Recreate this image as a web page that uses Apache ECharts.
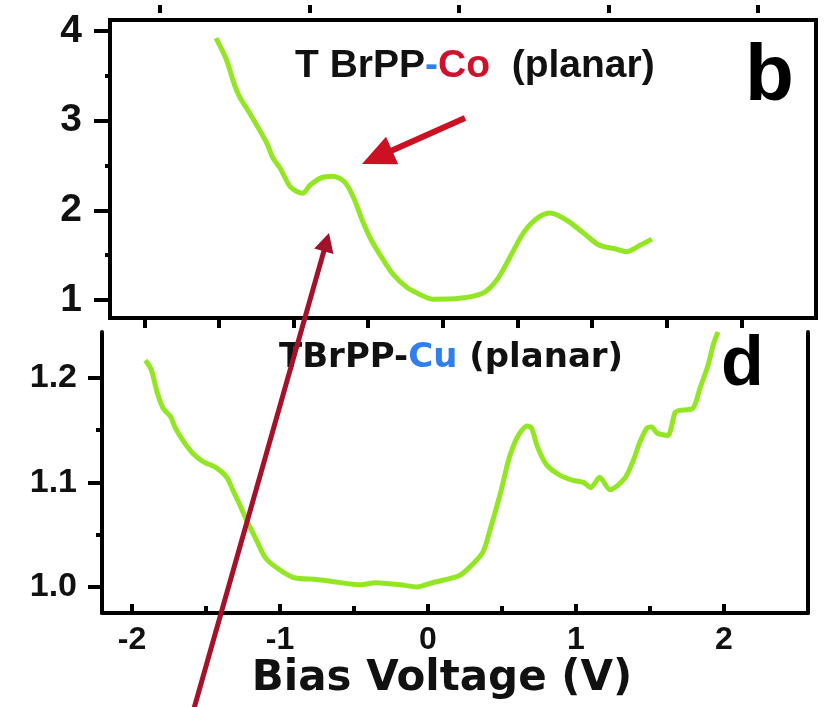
<!DOCTYPE html>
<html>
<head>
<meta charset="utf-8">
<script src="https://cdn.jsdelivr.net/npm/echarts@6/dist/echarts.min.js"></script>
<style>
  html, body { margin: 0; padding: 0; background: #fff; }
  #chart { width: 826px; height: 707px; }
</style>
</head>
<body>
<div id="chart"></div>
<script>
// panel b : TBrPP-Co, bias (V) vs normalized dI/dV
const topV = [-1.52, -1.45, -1.40, -1.36, -1.30, -1.24, -1.18, -1.14, -1.09, -1.02, -0.94, -0.89, -0.82, -0.74, -0.66, -0.60, -0.54, -0.48, -0.40, -0.33, -0.24, -0.15, -0.07, 0.11, 0.27, 0.36, 0.45, 0.54, 0.63, 0.72, 0.83, 0.94, 1.05, 1.16, 1.23, 1.32, 1.40];
const topDIdV = [3.92, 3.68, 3.42, 3.26, 3.10, 2.93, 2.75, 2.59, 2.47, 2.26, 2.19, 2.28, 2.36, 2.38, 2.32, 2.15, 1.89, 1.67, 1.45, 1.28, 1.14, 1.06, 1.01, 1.02, 1.08, 1.22, 1.48, 1.75, 1.91, 1.97, 1.89, 1.75, 1.61, 1.57, 1.54, 1.61, 1.68];

// panel d : TBrPP-Cu
const botV = [-1.91, -1.87, -1.83, -1.79, -1.74, -1.71, -1.66, -1.59, -1.52, -1.43, -1.36, -1.32, -1.27, -1.22, -1.16, -1.10, -1.02, -0.91, -0.75, -0.64, -0.46, -0.35, -0.19, -0.07, 0.03, 0.20, 0.26, 0.37, 0.42, 0.49, 0.55, 0.61, 0.67, 0.70, 0.74, 0.80, 0.89, 0.98, 1.05, 1.10, 1.16, 1.23, 1.33, 1.39, 1.43, 1.48, 1.51, 1.55, 1.62, 1.67, 1.70, 1.79, 1.84, 1.89, 1.93, 1.96];
const botDIdV = [1.217, 1.208, 1.186, 1.171, 1.163, 1.153, 1.141, 1.128, 1.120, 1.114, 1.105, 1.093, 1.078, 1.062, 1.045, 1.028, 1.018, 1.009, 1.007, 1.005, 1.002, 1.004, 1.002, 1.000, 1.004, 1.010, 1.016, 1.033, 1.055, 1.090, 1.124, 1.145, 1.154, 1.152, 1.134, 1.117, 1.107, 1.102, 1.100, 1.095, 1.105, 1.093, 1.104, 1.122, 1.138, 1.152, 1.153, 1.147, 1.145, 1.167, 1.169, 1.171, 1.191, 1.211, 1.233, 1.244];

// ticks
const topYTicks = [1, 2, 3, 4];
const topYMinor = [1.5, 2.5, 3.5];
const topXTicks = [-2, -1.5, -1, -0.5, 0, 0.5, 1, 1.5, 2];
const topEdgeTicks = [-2, -1, 0, 1, 2];
const botXTicks = [-2, -1, 0, 1, 2];
const botXMinor = [-1.5, -0.5, 0.5, 1.5];
const botYTicks = [1.0, 1.1, 1.2];
const botYMinor = [1.05, 1.15];

const lineColor = "#92e623";
const bold = "Liberation Sans";

let chart = echarts.init(document.getElementById("chart"));

const tick = (vals, len, inside) => ({
  show: true, inside: !!inside, length: len, customValues: vals,
  lineStyle: { color: "#000", width: 4 },
});
const noLine = { show: false, onZero: false };
const blackLine = { show: true, onZero: false, lineStyle: { color: "#000", width: 4 } };

// arrow annotation (pixel space)
function arrow(x1, y1, x2, y2, color, lw, headLen, headHalf) {
  let dx = x2 - x1, dy = y2 - y1;
  let L = Math.sqrt(dx * dx + dy * dy);
  let ux = dx / L, uy = dy / L;
  let bx = x2 - ux * headLen, by = y2 - uy * headLen;
  return [
    { type: "line", z: 100, shape: { x1: x1, y1: y1, x2: bx + ux * 2, y2: by + uy * 2 },
      style: { stroke: color, lineWidth: lw } },
    { type: "polygon", z: 100,
      shape: { points: [[x2, y2], [bx - uy * headHalf, by + ux * headHalf], [bx + uy * headHalf, by - ux * headHalf]] },
      style: { fill: color } },
  ];
}

let option = {
  animation: false,
  title: [
    {
      left: 295, top: 47, padding: 0,
      text: "{k|T BrPP}{bl|-}{r|Co}{k|  (planar)}",
      textStyle: {
        rich: {
          k: { fontFamily: bold, fontWeight: "bold", fontSize: 39, color: "#111", lineHeight: 39 },
          bl: { fontFamily: bold, fontWeight: "bold", fontSize: 39, color: "#2f7ff0", lineHeight: 39 },
          r: { fontFamily: bold, fontWeight: "bold", fontSize: 39, color: "#d0112b", lineHeight: 39 },
        },
      },
    },
    {
      left: 745, top: 38, padding: 0, text: "b",
      textStyle: { fontFamily: bold, fontWeight: "bold", fontSize: 80, color: "#000", lineHeight: 80 },
    },
    {
      left: 279, top: 341, padding: 0,
      text: "{k|TBrPP-}{bl|Cu}{k| (planar)}",
      textStyle: {
        rich: {
          k: { fontFamily: "DejaVu Sans", fontWeight: "bold", fontSize: 34, color: "#111", lineHeight: 34 },
          bl: { fontFamily: "DejaVu Sans", fontWeight: "bold", fontSize: 34, color: "#2f7ff0", lineHeight: 34 },
        },
      },
    },
    {
      left: 721, top: 331, padding: 0, text: "d",
      textStyle: { fontFamily: bold, fontWeight: "bold", fontSize: 70, color: "#000", lineHeight: 70 },
    },
  ],
  grid: [
    { left: 110, top: 20, width: 706, height: 298, show: true, borderColor: "#000", borderWidth: 4, backgroundColor: "transparent" },
    { left: 102, top: 332, width: 706, height: 281 },
    { left: 110, top: 20, width: 706, height: 298 },
    { left: 102, top: 332, width: 706, height: 281 },
  ],
  xAxis: [
    { // top panel bottom ticks
      type: "value", gridIndex: 0, position: "bottom", min: -2.23, max: 2.5,
      axisLine: noLine, splitLine: { show: false },
      axisTick: tick(topXTicks, 10, false), axisLabel: { show: false },
    },
    { // floating ticks above top panel
      type: "value", gridIndex: 0, position: "top", offset: 7, min: -2.334, max: 2.388,
      axisLine: noLine, splitLine: { show: false },
      axisTick: tick(topEdgeTicks, 8, false), axisLabel: { show: false },
    },
    { // bottom panel main x axis
      type: "value", gridIndex: 1, position: "bottom", min: -2.203, max: 2.568,
      axisLine: blackLine,
      splitLine: { show: false },
      axisTick: tick(botXTicks, 9, true),
      axisLabel: {
        show: true, customValues: botXTicks, margin: 11,
        fontFamily: bold, fontWeight: "bold", fontSize: 32, color: "#111",
      },
      name: "Bias Voltage (V)", nameLocation: "middle", nameGap: 45,
      nameTextStyle: { fontFamily: "DejaVu Sans", fontWeight: "bold", fontSize: 42, color: "#111", padding: [0, 26, 0, 0] },
    },
    { type: "value", gridIndex: 2, show: false, min: -2.23, max: 2.5, axisLine: noLine },
    { // bottom panel minor x ticks
      type: "value", gridIndex: 3, position: "bottom", min: -2.203, max: 2.568,
      axisLine: noLine, splitLine: { show: false },
      axisTick: tick(botXMinor, 7, true), axisLabel: { show: false },
    },
  ],
  yAxis: [
    { // top panel y
      type: "value", gridIndex: 0, position: "left", min: 0.8, max: 4.123,
      axisLine: noLine, splitLine: { show: false },
      axisTick: tick(topYTicks, 16, false),
      axisLabel: {
        show: true, customValues: topYTicks, margin: 28,
        fontFamily: bold, fontWeight: "bold", fontSize: 39, color: "#111",
      },
    },
    { // bottom panel y
      type: "value", gridIndex: 1, position: "left", min: 0.975, max: 1.244,
      axisLine: blackLine,
      splitLine: { show: false },
      axisTick: tick(botYTicks, 14, false),
      axisLabel: {
        show: true, customValues: botYTicks, margin: 25,
        formatter: (v) => v.toFixed(1),
        fontFamily: bold, fontWeight: "bold", fontSize: 34, color: "#111",
      },
    },
    { // bottom panel right frame
      type: "value", gridIndex: 1, position: "right", min: 0.975, max: 1.244,
      axisLine: blackLine,
      splitLine: { show: false }, axisTick: { show: false }, axisLabel: { show: false },
    },
    { // top panel minor y
      type: "value", gridIndex: 2, position: "left", min: 0.8, max: 4.123,
      axisLine: noLine, splitLine: { show: false },
      axisTick: tick(topYMinor, 5, false), axisLabel: { show: false },
    },
    { // bottom panel minor y
      type: "value", gridIndex: 3, position: "left", min: 0.975, max: 1.244,
      axisLine: noLine, splitLine: { show: false },
      axisTick: tick(botYMinor, 6, false), axisLabel: { show: false },
    },
  ],
  series: [
    {
      name: "TBrPP-Co", type: "line", xAxisIndex: 0, yAxisIndex: 0,
      data: topV.map((v, i) => [v, topDIdV[i]]),
      showSymbol: false, smooth: 0.3, clip: true,
      lineStyle: { color: lineColor, width: 5 },
    },
    {
      name: "TBrPP-Cu", type: "line", xAxisIndex: 2, yAxisIndex: 1,
      data: botV.map((v, i) => [v, botDIdV[i]]),
      showSymbol: false, smooth: 0.25, clip: true,
      lineStyle: { color: lineColor, width: 5 },
    },
  ],
  graphic: [
    ...arrow(465, 118, 362, 164, "#cc1122", 6, 33, 15),
    ...arrow(193, 712, 329, 233, "#a3112a", 5, 19, 10),
  ],
};

option && chart.setOption(option);
</script>
</body>
</html>
